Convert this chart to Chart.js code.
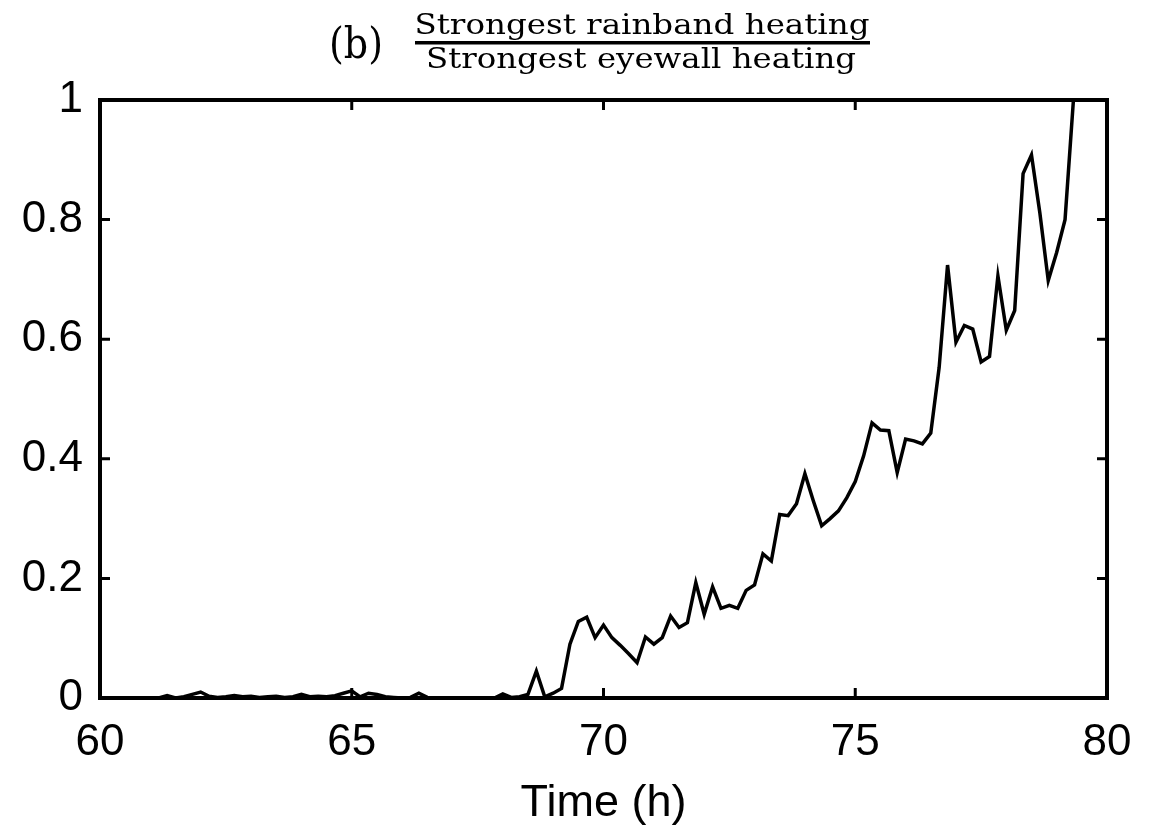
<!DOCTYPE html>
<html>
<head>
<meta charset="utf-8">
<title>Rainband to eyewall heating ratio</title>
<script src="https://cdn.jsdelivr.net/npm/chart.js@4.4.1/dist/chart.umd.min.js"></script>
<style>
  html, body { margin: 0; padding: 0; background: #fff; }
  #wrap { width: 1161px; height: 826px; }
</style>
</head>
<body>
<div id="wrap"><canvas id="c" width="1161" height="826"></canvas></div>
<script>
// Model output sampled every 10 minutes, starting at t = 60 h
const startHour = 60;
const stepHour = 1 / 6;

// Ratio of strongest rainband heating to strongest eyewall heating
const ratio = [
  0, 0, 0, 0, 0, 0, 0, 0, 0.004, 0,          // 60.00 - 61.50
  0.002, 0.006, 0.010, 0.003, 0.001, 0.002,  // 61.67 - 62.50
  0.004, 0.002, 0.003, 0.001, 0.002, 0.003,  // 62.67 - 63.50
  0.001, 0.002, 0.006, 0.002, 0.003, 0.002,  // 63.67 - 64.50
  0.004, 0.008, 0.012, 0.002, 0.008, 0.006,  // 64.67 - 65.50
  0.002, 0.001, 0, 0.001, 0.008, 0.001,      // 65.67 - 66.50
  0, 0, 0, 0, 0, 0, 0, 0,                    // 66.67 - 67.83
  0.007, 0.001, 0.002, 0.006, 0.045, 0.002,  // 68.00 - 68.83
  0.008, 0.016, 0.090, 0.128, 0.135, 0.101,  // 69.00 - 69.83
  0.122, 0.101, 0.088, 0.074, 0.059, 0.102,  // 70.00 - 70.83
  0.090, 0.101, 0.137, 0.118, 0.126, 0.193,  // 71.00 - 71.83
  0.140, 0.186, 0.150, 0.155, 0.150, 0.180,  // 72.00 - 72.83
  0.189, 0.241, 0.229, 0.307, 0.305, 0.325,  // 73.00 - 73.83
  0.375, 0.330, 0.288, 0.300, 0.313, 0.335,  // 74.00 - 74.83
  0.362, 0.405, 0.460, 0.448, 0.447, 0.377,  // 75.00 - 75.83
  0.433, 0.430, 0.425, 0.443, 0.553, 0.724,  // 76.00 - 76.83
  0.595, 0.623, 0.617, 0.562, 0.571, 0.706,  // 77.00 - 77.83
  0.615, 0.648, 0.877, 0.908, 0.811, 0.698,  // 78.00 - 78.83
  0.745, 0.800, 1.000                        // 79.00 - 79.33
];

const hours = ratio.map((_, i) => startHour + i * stepHour);

// Axis ticks and their labels
const xTicks = [60, 65, 70, 75, 80];
const xTickLabels = ['60', '65', '70', '75', '80'];
const yTicks = [0, 0.2, 0.4, 0.6, 0.8, 1];
const yTickLabels = ['0', '0.2', '0.4', '0.6', '0.8', '1'];

const xTitle = 'Time (h)';
const panelLabel = '(b)';
const numerator = 'Strongest rainband heating';
const denominator = 'Strongest eyewall heating';

const sansFont = '"Liberation Sans", Arial, Helvetica, sans-serif';
const serifFont = '"DejaVu Serif", "Liberation Serif", serif';

// Boxed frame with inward-pointing ticks on all four sides
const boxFrame = {
  id: 'boxFrame',
  afterDatasetsDraw(chart) {
    const { ctx, chartArea: { left, right, top, bottom }, scales: { x, y } } = chart;
    const len = 10;
    ctx.save();
    ctx.strokeStyle = '#000';
    ctx.lineWidth = 3;
    ctx.lineCap = 'butt';
    ctx.beginPath();
    x.ticks.forEach(t => {
      const px = x.getPixelForValue(t.value);
      ctx.moveTo(px, bottom); ctx.lineTo(px, bottom - len);
      ctx.moveTo(px, top); ctx.lineTo(px, top + len);
    });
    y.ticks.forEach(t => {
      const py = y.getPixelForValue(t.value);
      ctx.moveTo(left, py); ctx.lineTo(left + len, py);
      ctx.moveTo(right, py); ctx.lineTo(right - len, py);
    });
    ctx.stroke();
    ctx.lineWidth = 4;
    ctx.strokeRect(left, top, right - left, bottom - top);
    ctx.restore();
  }
};

// Panel label followed by a stacked fraction as the title
const fractionTitle = {
  id: 'fractionTitle',
  afterDraw(chart) {
    const ctx = chart.ctx;
    const fit = (text, cx, baseline, width, size) => {
      ctx.font = size + 'px ' + serifFont;
      const w = ctx.measureText(text).width;
      ctx.save();
      ctx.translate(cx, baseline);
      ctx.scale(width / w, 1);
      ctx.textAlign = 'center';
      ctx.textBaseline = 'alphabetic';
      ctx.fillText(text, 0, 0);
      ctx.restore();
    };
    ctx.save();
    ctx.fillStyle = '#000';
    fit(panelLabel, 356, 58, 54, 42);
    fit(numerator, 642, 34, 455, 28);
    fit(denominator, 641, 68, 430, 28);
    ctx.fillRect(415, 41, 455, 3.5);
    ctx.restore();
  }
};

new Chart(document.getElementById('c'), {
  type: 'line',
  data: {
    datasets: [{
      data: hours.map((h, i) => ({ x: h, y: ratio[i] })),
      borderColor: '#000',
      borderWidth: 3.5,
      pointRadius: 0,
      tension: 0,
      fill: false
    }]
  },
  options: {
    responsive: false,
    animation: false,
    events: [],
    layout: { padding: { left: 0, right: 54, top: 100, bottom: 0 } },
    plugins: { legend: { display: false }, tooltip: { enabled: false }, title: { display: false } },
    scales: {
      x: {
        type: 'linear',
        min: 60,
        max: 80,
        afterBuildTicks: s => { s.ticks = xTicks.map(v => ({ value: v })); },
        afterFit: s => { s.height = 826 - 698; },
        ticks: {
          callback: v => xTickLabels[xTicks.indexOf(v)],
          color: '#000',
          font: { family: sansFont, size: 44 },
          padding: 18,
          maxRotation: 0,
          autoSkip: false
        },
        grid: { display: false, drawTicks: false },
        border: { display: false },
        title: {
          display: true,
          text: xTitle,
          color: '#000',
          font: { family: sansFont, size: 45, lineHeight: 1 },
          padding: { top: 0, bottom: 0 }
        }
      },
      y: {
        type: 'linear',
        min: 0,
        max: 1,
        afterBuildTicks: s => { s.ticks = yTicks.map(v => ({ value: v })); },
        afterFit: s => { s.width = 100; },
        ticks: {
          callback: v => yTickLabels[yTicks.indexOf(v)],
          color: '#000',
          font: { family: sansFont, size: 44 },
          padding: 17,
          autoSkip: false
        },
        grid: { display: false, drawTicks: false },
        border: { display: false }
      }
    }
  },
  plugins: [boxFrame, fractionTitle]
});
</script>
</body>
</html>
